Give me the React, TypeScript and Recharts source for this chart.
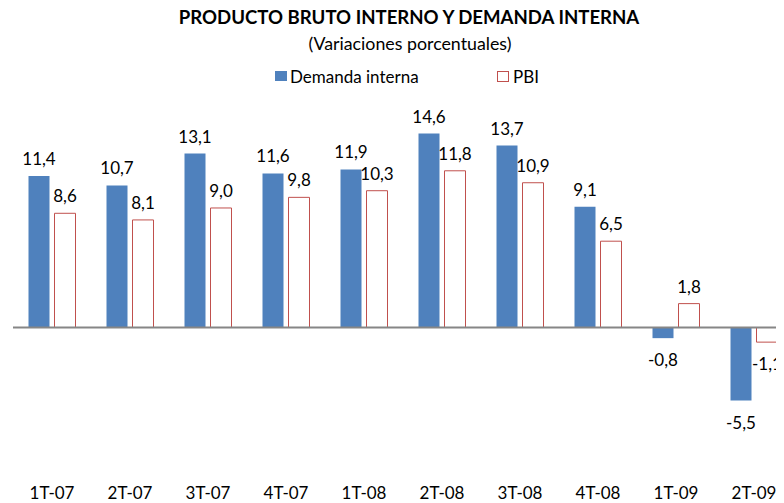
import { Bar, BarChart, LabelList, ReferenceLine, XAxis, YAxis } from "recharts";

const quarters = ["1T-07", "2T-07", "3T-07", "4T-07", "1T-08", "2T-08", "3T-08", "4T-08", "1T-09", "2T-09"];
const demandaInterna = [11.4, 10.7, 13.1, 11.6, 11.9, 14.6, 13.7, 9.1, -0.8, -5.5];
const pbi = [8.6, 8.1, 9.0, 9.8, 10.3, 11.8, 10.9, 6.5, 1.8, -1.1];

const data = quarters.map((q, i) => ({ q, demanda: demandaInterna[i], pbi: pbi[i] }));

const FONT = "Lato, 'Open Sans', sans-serif";
const BLUE = "#4f81bd";
const RED = "#c0504d";

const fmt = (v: number) => v.toFixed(1).replace(".", ",");

function ValueLabel(props: any) {
  const { x, y, width, height, value } = props;
  const top = Math.min(y, y + height);
  const bottom = Math.max(y, y + height);
  const cx = x + width / 2;
  const ty = value >= 0 ? top - 11 : bottom + 28;
  return (
    <text x={cx} y={ty} textAnchor="middle" fontSize={17} fontFamily={FONT} fill="#000">
      {fmt(Number(value))}
    </text>
  );
}

export default function App() {
  return (
    <div style={{ position: "relative", width: 776, height: 495, background: "#fff" }}>
      <div
        style={{
          position: "absolute",
          top: -2,
          left: 151,
          width: 500,
          textAlign: "center",
          whiteSpace: "nowrap",
          fontFamily: FONT,
          fontWeight: 700,
          fontSize: 18.6,
          color: "#000",
        }}
      >
        PRODUCTO BRUTO INTERNO Y DEMANDA INTERNA
      </div>
      <div
        style={{
          position: "absolute",
          top: 24,
          left: 252,
          width: 300,
          textAlign: "center",
          whiteSpace: "nowrap",
          fontFamily: FONT,
          fontSize: 17.8,
          color: "#000",
        }}
      >
        (Variaciones porcentuales)
      </div>
      <div style={{ position: "absolute", top: 58, left: 0, fontFamily: FONT, fontSize: 17, color: "#000" }}>
        <span style={{ position: "absolute", left: 267, top: 5, width: 12, height: 10, background: BLUE }} />
        <span style={{ position: "absolute", left: 282, top: 0, whiteSpace: "nowrap" }}>Demanda interna</span>
        <span
          style={{ position: "absolute", left: 489, top: 5, width: 10, height: 9, border: `1px solid ${RED}` }}
        />
        <span style={{ position: "absolute", left: 505, top: 0 }}>PBI</span>
      </div>
      <div style={{ position: "absolute", top: 0, left: 0 }}>
        {/* plot runs past the right edge of the page, as in the original */}
        <BarChart
          width={776}
          height={495}
          data={data}
          margin={{ top: 107, right: -9, bottom: 0, left: 5 }}
          barCategoryGap={15.5}
          barGap={5}
        >
          <XAxis
            dataKey="q"
            height={36}
            axisLine={false}
            tickLine={false}
            tickSize={0}
            tickMargin={20}
            interval={0}
            tick={{ fontSize: 17, fontFamily: FONT, fill: "#000" }}
          />
          <YAxis hide domain={[-10.5, 16]} />
          <ReferenceLine y={0} stroke="#868686" strokeWidth={2} />
          <Bar dataKey="demanda" fill={BLUE} isAnimationActive={false}>
            <LabelList dataKey="demanda" content={<ValueLabel />} />
          </Bar>
          <Bar dataKey="pbi" fill="#fff" stroke={RED} strokeWidth={1} isAnimationActive={false}>
            <LabelList dataKey="pbi" content={<ValueLabel />} />
          </Bar>
        </BarChart>
      </div>
    </div>
  );
}
